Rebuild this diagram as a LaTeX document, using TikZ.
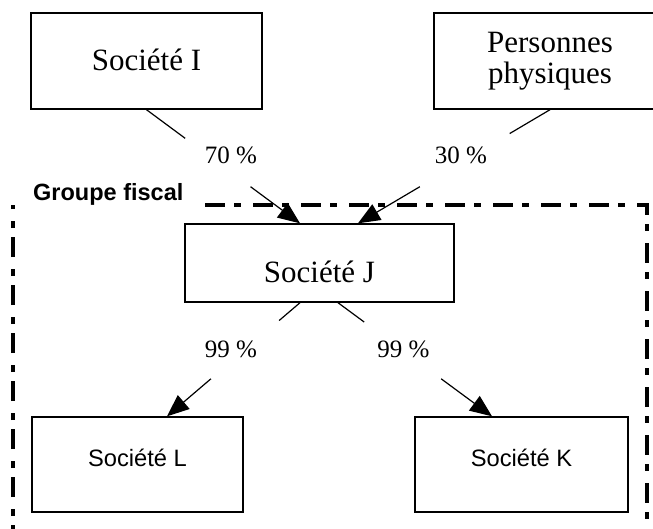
\documentclass[tikz,border=0pt]{standalone}
\usepackage{fontspec}
\setmainfont{Liberation Serif}
\setsansfont{Liberation Sans}
\usetikzlibrary{arrows.meta,calc}
\begin{document}
\begin{tikzpicture}[x=1pt,y=-1pt,
  box/.style={draw, line width=1.4pt, inner sep=0pt, rectangle},
  ser/.style={font=\fontsize{31}{31}\selectfont},
  pct/.style={font=\fontsize{25}{30}\selectfont, anchor=base, inner sep=0pt},
  ari/.style={font=\sffamily\fontsize{23.7}{28}\selectfont},
  conn/.style={line width=1.2pt},
  arr/.style={line width=1.2pt, -{Triangle[length=22pt,width=18pt]}},
  grp/.style={line width=4pt, dash pattern=on 20pt off 9pt on 7pt off 12pt}
]
\useasboundingbox (0,0) rectangle (653,528);
\clip (0,0) rectangle (653,528);

% fiscal group frame
\draw[grp] (12.7,545) -- (12.7,205);
\draw[grp] (205,205) -- (647,205) -- (647,545);
\node[font=\sffamily\bfseries\fontsize{23.5}{28}\selectfont, anchor=base west, inner sep=0pt] (gf) at (33,200) {Groupe fiscal};

% boxes
\node[box, ser, minimum width=231pt, minimum height=96pt, text height=22pt, text depth=4pt] (I) at (146.5,61) {Société I};
\node[box, ser, align=center, minimum width=232pt, minimum height=96pt] (P) at (550,61) {Personnes\\physiques};
\node[box, ser, minimum width=269pt, minimum height=78pt, text height=42pt, text depth=4pt] (J) at (319.5,263) {Société J};
\node[box, ari, minimum width=211pt, minimum height=95pt, text height=10pt, text depth=7pt] (L) at (137.5,464.5) {Société L};
\node[box, ari, minimum width=213pt, minimum height=95pt, text height=10pt, text depth=7pt] (K) at (521.5,464.5) {Société K};

% end points
\coordinate (jt1) at ([xshift=-19.5pt]J.north);
\coordinate (jt2) at ([xshift=38.5pt]J.north);
\coordinate (jb1) at ([xshift=-19.5pt]J.south);
\coordinate (jb2) at ([xshift=18.5pt]J.south);
\coordinate (lt) at ([xshift=29.5pt]L.north);
\coordinate (kt) at ([xshift=-29.5pt]K.north);

% connectors
\draw[conn] (I.south) -- ($(I.south)!0.252!(jt1)$);
\draw[arr] ($(I.south)!0.678!(jt1)$) -- (jt1);
\draw[conn] (P.south) -- ($(P.south)!0.21!(jt2)$);
\draw[arr] ($(P.south)!0.678!(jt2)$) -- (jt2);
\draw[conn] (jb1) -- ($(jb1)!0.157!(lt)$);
\draw[arr] ($(jb1)!0.67!(lt)$) -- (lt);
\draw[conn] (jb2) -- ($(jb2)!0.17!(kt)$);
\draw[arr] ($(jb2)!0.67!(kt)$) -- (kt);

% labels
\node[pct] (p70) at (231,163) {70 \%};
\node[pct] (p30) at (461,163) {30 \%};
\node[pct] (p99a) at (231,357) {99 \%};
\node[pct] (p99b) at (403.5,357) {99 \%};
\end{tikzpicture}
\end{document}
